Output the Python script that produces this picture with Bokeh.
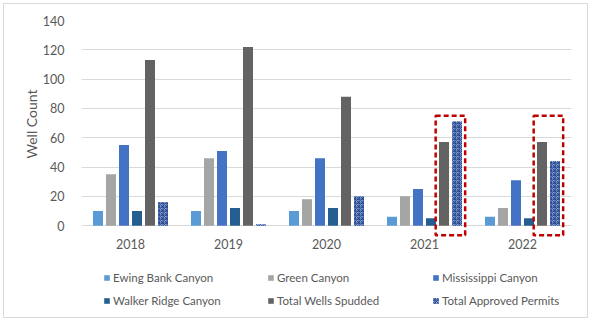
from bokeh.plotting import figure
from bokeh.models import (ColumnDataSource, FactorRange, Range1d, Legend, LegendItem,
                          Title, FixedTicker)
from bokeh.transform import dodge
from bokeh.core.properties import value
from bokeh.embed import file_html
from bokeh.resources import INLINE

years = ["2018", "2019", "2020", "2021", "2022"]
ewing = [10, 10, 10, 6, 6]
green = [35, 46, 18, 20, 12]
mississippi = [55, 51, 46, 25, 31]
walker = [10, 12, 12, 5, 5]
total_spudded = [113, 122, 88, 57, 57]
approved_permits = [16, 1, 20, 71, 44]

series_names = ["Ewing Bank Canyon", "Green Canyon", "Mississippi Canyon",
                "Walker Ridge Canyon", "Total Wells Spudded", "Total Approved Permits"]
y_ticks = [0, 20, 40, 60, 80, 100, 120, 140]
y_title = "Well Count"

highlight_years = ["2021", "2022"]
highlight_top = 75
highlight_bottom = -6.5

FONT = "Lato"
TXT = "#595959"

src = ColumnDataSource(dict(year=years, ewing=ewing, green=green, miss=mississippi,
                            walker=walker, total=total_spudded, permits=approved_permits))

# frame extends below the axis so the legend fits inside it
p = figure(width=585, height=315, x_range=FactorRange(factors=years, range_padding=0),
           y_range=Range1d(-62, 140), output_backend="svg", toolbar_location=None,
           min_border_left=77, min_border_right=18, min_border_top=16, min_border_bottom=3)
p.styles = {"border": "1px solid #d9d9d9", "margin": "3px 0 0 3px"}
p.outline_line_color = None
p.background_fill_color = "white"
p.border_fill_color = "white"

step = 13 / 98
bw = 10 / 98
offs = [-2.5 * step, -1.5 * step, -0.5 * step, 0.5 * step, 1.5 * step, 2.5 * step]
cols = ["ewing", "green", "miss", "walker", "total", "permits"]
colors = ["#5b9bd5", "#a5a5a5", "#4472c4", "#255e91", "#636363", "#87a5dc"]

renderers = []
for i, (c, col) in enumerate(zip(cols, colors)):
    kw = {}
    if c == "permits":
        kw = dict(hatch_pattern="criss_cross", hatch_color="#1f3f80", hatch_scale=4,
                  hatch_alpha=0.85, hatch_weight=1)
    r = p.vbar(x=dodge("year", offs[i], range=p.x_range), top=c, width=bw, source=src,
               fill_color=col, line_color=None, **kw)
    renderers.append(r)

hsrc = ColumnDataSource(dict(year=highlight_years,
                             top=[highlight_top] * len(highlight_years),
                             bottom=[highlight_bottom] * len(highlight_years)))
p.quad(left=dodge("year", 0.114, range=p.x_range), right=dodge("year", 0.415, range=p.x_range),
       top="top", bottom="bottom", source=hsrc, fill_color=None,
       line_color="#c00000", line_width=2.5, line_dash="5 3")

# category labels under the baseline
p.text(x=years, y=[-12.3] * len(years), text=years, text_align="center",
       text_baseline="middle", text_font=value(FONT), text_font_size="12.5px",
       text_color=TXT)

p.xaxis.visible = False
p.xgrid.grid_line_color = None
p.ygrid.grid_line_color = "#d9d9d9"
p.ygrid.grid_line_width = 1
p.yaxis.ticker = FixedTicker(ticks=y_ticks)
ax = p.yaxis[0]
ax.axis_line_color = None
ax.major_tick_line_color = None
ax.minor_tick_line_color = None
ax.major_label_text_font = FONT
ax.major_label_text_font_size = "12.5px"
ax.major_label_text_color = TXT
ax.major_label_standoff = 11

p.add_layout(Title(text=y_title, align="left", offset=158, text_font=FONT,
                   text_font_size="14px", text_font_style="normal", text_color=TXT,
                   standoff=0), "left")

groups = [[0, 3], [1, 4], [2, 5]]
xs = [22, 186, 351]
for g, lx in zip(groups, xs):
    items = [LegendItem(label=series_names[k], renderers=[renderers[k]]) for k in g]
    leg = Legend(items=items, location=(lx, 8), orientation="vertical",
                 glyph_width=7, glyph_height=7, label_standoff=3, spacing=7,
                 padding=0, margin=0, border_line_color=None, background_fill_alpha=0,
                 label_text_font=FONT, label_text_font_size="11.5px",
                 label_text_color=TXT, label_height=16)
    p.add_layout(leg)

open("out.html", "w").write(file_html(p, INLINE))
